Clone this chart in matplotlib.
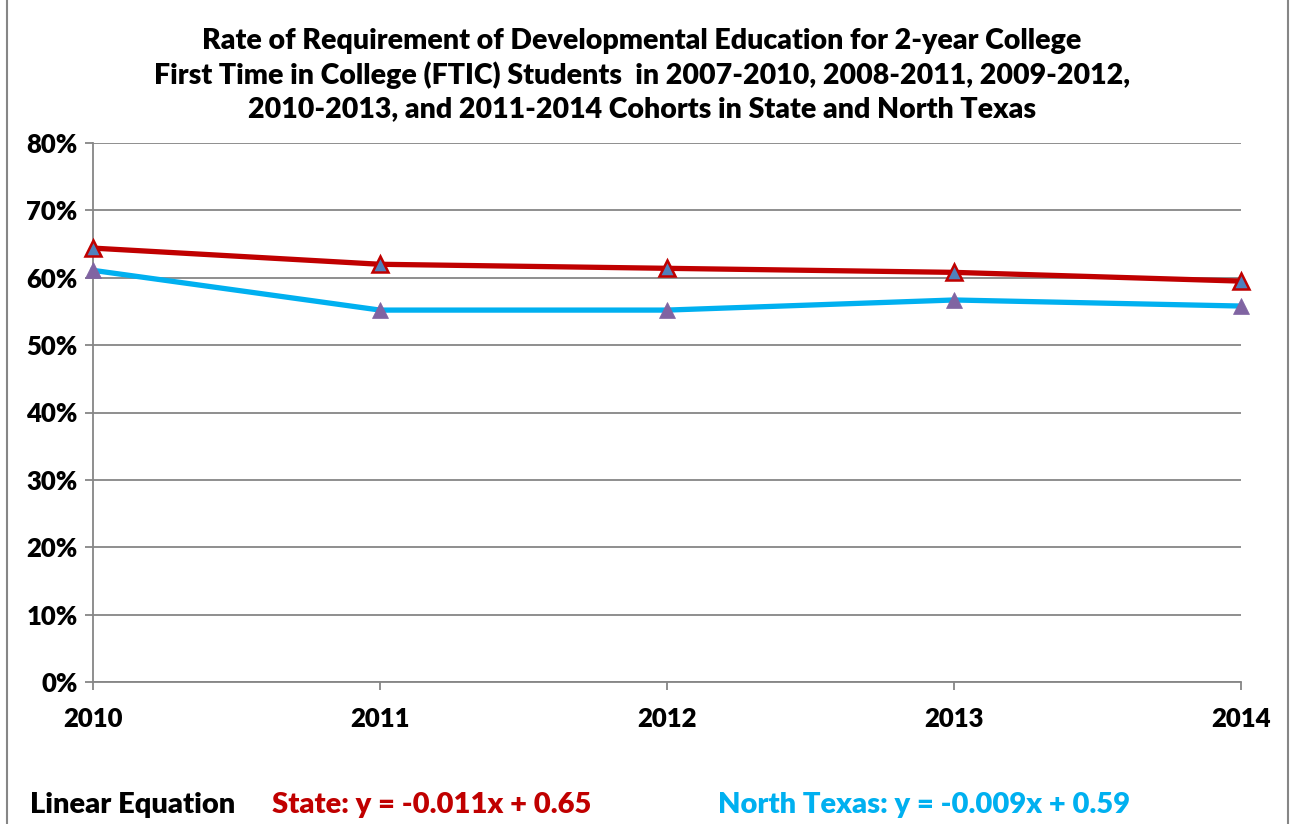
import matplotlib
matplotlib.use("Agg")
import matplotlib.pyplot as plt
from matplotlib.patches import Rectangle
from matplotlib.ticker import FuncFormatter, MultipleLocator

plt.rcParams['font.family'] = ['Lato', 'DejaVu Sans']
plt.rcParams['font.weight'] = 'heavy'

years = ['2010', '2011', '2012', '2013', '2014']
state = [0.644, 0.620, 0.614, 0.608, 0.595]
north_texas = [0.611, 0.552, 0.552, 0.567, 0.558]

title = ("Rate of Requirement of Developmental Education for 2-year College\n"
         "First Time in College (FTIC) Students  in 2007-2010, 2008-2011, 2009-2012,\n"
         "2010-2013, and 2011-2014 Cohorts in State and North Texas")

fig = plt.figure(figsize=(12.92, 8.24), dpi=100)
ax = fig.add_axes([93/1292, (824-682)/824, (1241-93)/1292, (682-143)/824])

x = range(len(years))
ax.plot(x, state, color='#C00000', lw=3.8, marker='^', ms=12,
        mfc='#4F81BD', mec='#C00000', mew=1.8, zorder=3, clip_on=False)
ax.plot(x, north_texas, color='#00B0F0', lw=3.8, marker='^', ms=12,
        mfc='#8064A2', mec='#8064A2', mew=0.5, zorder=3, clip_on=False)

ax.set_xlim(0, len(years) - 1)
ax.set_ylim(0, 0.8)
ax.yaxis.set_major_locator(MultipleLocator(0.1))
ax.yaxis.set_major_formatter(FuncFormatter(lambda v, p: f'{v*100:.0f}%'))
ax.set_xticks(list(x))
ax.set_xticklabels(years)
ax.grid(axis='y', color='#868686', lw=1.3)
ax.grid(axis='x', visible=False)
for s in ['top', 'right']:
    ax.spines[s].set_visible(False)
for s in ['left', 'bottom']:
    ax.spines[s].set_color('#868686')
    ax.spines[s].set_linewidth(1.3)
ax.tick_params(axis='both', colors='#868686', labelcolor='black', labelsize=18.5,
               length=6, width=1.3)
ax.tick_params(axis='x', pad=12)
ax.tick_params(axis='y', pad=5)
ax.set_axisbelow(True)

fig.text(0.497, 1 - 75/824, title, ha='center', va='center', fontsize=20.5,
         fontweight='heavy', linespacing=1.32)

fig.text(30/1292, 1 - 805/824, 'Linear Equation', fontsize=21, va='center')
fig.text(272/1292, 1 - 805/824, 'State: y = -0.011x + 0.65', fontsize=21,
         va='center', color='#C00000')
fig.text(718/1292, 1 - 805/824, 'North Texas: y = -0.009x + 0.59', fontsize=21,
         va='center', color='#00B0F0')

fig.patches.append(Rectangle((7/1292, -0.01), (1288-7)/1292, 1.02,
                             transform=fig.transFigure, fill=False,
                             edgecolor='#868686', lw=1.5))

fig.savefig('out.png', dpi=100)
